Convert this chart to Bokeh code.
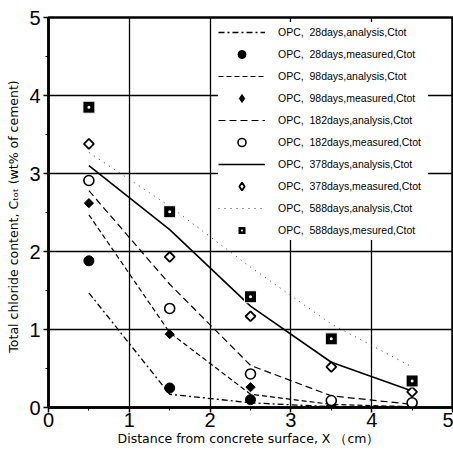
import math
from bokeh.plotting import figure
from bokeh.models import Range1d, FixedTicker, Legend, LegendItem
from bokeh.embed import file_html
from bokeh.resources import INLINE

# ---------------- data ----------------
depth = [0.5, 1.5, 2.5, 3.5, 4.5]          # distance from surface (cm)

ana_28 = [1.47, 0.17, 0.06, 0.01, 0.00]
ana_98 = [2.47, 0.96, 0.17, 0.04, 0.01]
ana_182 = [2.78, 1.58, 0.54, 0.15, 0.04]
ana_378 = [3.10, 2.28, 1.30, 0.58, 0.21]
ana_588 = [3.27, 2.58, 1.80, 1.07, 0.52]

mea_28 = [1.88, 0.25, 0.10, 0.00, 0.00]
mea_98 = [2.62, 0.94, 0.26, 0.02, 0.00]
mea_182 = [2.91, 1.27, 0.43, 0.09, 0.06]
mea_378 = [3.38, 1.93, 1.17, 0.52, 0.20]
mea_588 = [3.85, 2.51, 1.42, 0.88, 0.34]

labels = [
    "OPC,  28days,analysis,Ctot",
    "OPC,  28days,measured,Ctot",
    "OPC,  98days,analysis,Ctot",
    "OPC,  98days,measured,Ctot",
    "OPC,  182days,analysis,Ctot",
    "OPC,  182days,measured,Ctot",
    "OPC,  378days,analysis,Ctot",
    "OPC,  378days,measured,Ctot",
    "OPC,  588days,analysis,Ctot",
    "OPC,  588days,mesured,Ctot",
]
x_ticks = [0, 1, 2, 3, 4, 5]
y_ticks = [0, 1, 2, 3, 4, 5]
x_title = "Distance from concrete surface,  X （cm）"
y_title = "Total chloride content,  Cₜₒₜ  (wt% of cement)"

FONT = "Liberation Sans"
TFONT = "DejaVu Sans"
NAN = float("nan")

p = figure(width=453, height=451, x_range=Range1d(0, 5), y_range=Range1d(0, 5),
           output_backend="svg", toolbar_location=None,
           min_border_left=48, min_border_right=1, min_border_top=17, min_border_bottom=44)

p.outline_line_color = "black"
p.outline_line_width = 2.5
p.background_fill_color = "white"
p.border_fill_color = "white"

for ax, ticks in ((p.xaxis[0], x_ticks), (p.yaxis[0], y_ticks)):
    ax.ticker = FixedTicker(ticks=ticks, minor_ticks=[t + 0.5 for t in ticks[:-1]])
    ax.axis_line_color = "black"
    ax.axis_line_width = 2.5
    ax.major_tick_line_color = "black"
    ax.major_tick_line_width = 1.5
    ax.major_tick_out = 5
    ax.major_tick_in = 0
    ax.minor_tick_line_color = "black"
    ax.minor_tick_line_width = 1
    ax.minor_tick_out = 3
    ax.minor_tick_in = 0
    ax.major_label_text_font = FONT
    ax.major_label_text_font_size = "20px"
    ax.major_label_text_color = "black"
    ax.axis_label_text_font = TFONT
    ax.axis_label_text_font_style = "normal"
    ax.axis_label_text_color = "black"

p.xaxis[0].major_label_standoff = 0
p.xaxis[0].axis_label = x_title
p.xaxis[0].axis_label_text_font_size = "12.5px"
p.xaxis[0].axis_label_standoff = 1

p.yaxis[0].major_label_standoff = 3
p.yaxis[0].axis_label = y_title
p.yaxis[0].axis_label_text_font_size = "12.5px"
p.yaxis[0].axis_label_standoff = 5

p.xgrid.ticker = FixedTicker(ticks=[1, 2, 3, 4])
p.ygrid.ticker = FixedTicker(ticks=[1, 2, 3, 4])
for g in (p.xgrid[0], p.ygrid[0]):
    g.grid_line_color = "black"
    g.grid_line_width = 1.3

# analysis lines
r_a28 = p.line(depth, ana_28, line_color="black", line_width=1.3, line_dash="6 3 2 3")
r_a98 = p.line(depth, ana_98, line_color="black", line_width=1.2, line_dash="5 3")
r_a182 = p.line(depth, ana_182, line_color="black", line_width=1.2, line_dash="7 4")
r_a378 = p.line(depth, ana_378, line_color="black", line_width=1.6)
r_a588 = p.line(depth, ana_588, line_color="#333333", line_width=1.0, line_dash="1 5")

# measured markers
r_m28 = p.scatter(depth, mea_28, marker="circle", size=10, fill_color="black", line_color="black")
p.scatter(depth, mea_98, marker="square", angle=math.pi / 4, size=6.5,
          fill_color="black", line_color="black")
r_m182 = p.scatter(depth, mea_182, marker="circle", size=10, fill_color="white",
                   line_color="black", line_width=1.6)
p.scatter(depth, mea_378, marker="square", angle=math.pi / 4, size=7,
          fill_color="white", line_color="black", line_width=1.8)
r_m588 = p.scatter(depth, mea_588, marker="square_dot", size=12, fill_color="black",
                   line_color="white", line_width=1)

# legend-only diamond samples (legend glyphs are drawn unrotated); NaN = not drawn in plot
r_l98 = p.scatter(x=[NAN], y=[NAN], marker="diamond", size=10, fill_color="black", line_color="black")
r_l378 = p.scatter(x=[NAN], y=[NAN], marker="diamond", size=10, fill_color="white",
                   line_color="black", line_width=1.8)

items = [
    LegendItem(label=labels[0], renderers=[r_a28]),
    LegendItem(label=labels[1], renderers=[r_m28]),
    LegendItem(label=labels[2], renderers=[r_a98]),
    LegendItem(label=labels[3], renderers=[r_l98]),
    LegendItem(label=labels[4], renderers=[r_a182]),
    LegendItem(label=labels[5], renderers=[r_m182]),
    LegendItem(label=labels[6], renderers=[r_a378]),
    LegendItem(label=labels[7], renderers=[r_l378]),
    LegendItem(label=labels[8], renderers=[r_a588]),
    LegendItem(label=labels[9], renderers=[r_m588]),
]
legend = Legend(items=items, location=(170, 167), margin=0, padding=6, spacing=2,
                glyph_width=47, glyph_height=20, label_height=20, label_width=150,
                label_standoff=13, border_line_color=None,
                background_fill_color="white", background_fill_alpha=1.0,
                label_text_font=FONT,
                label_text_font_size="10.5px", label_text_color="black")
p.add_layout(legend)

open("out.html", "w").write(file_html(p, INLINE))
